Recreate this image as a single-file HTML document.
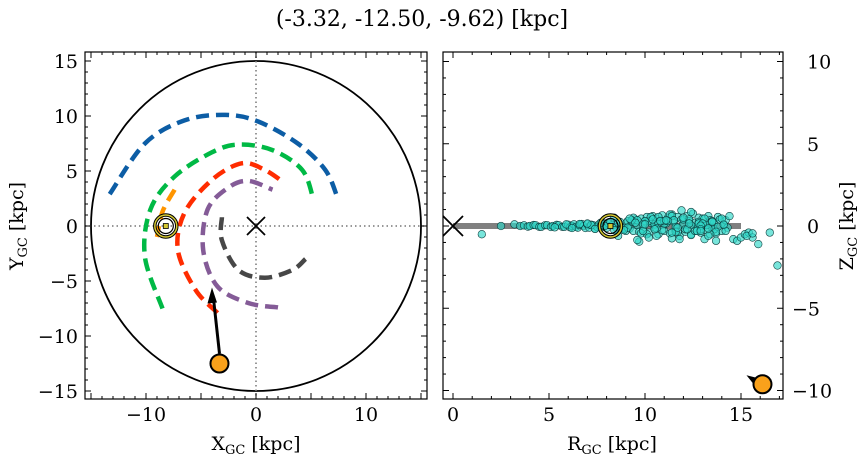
<!DOCTYPE html>
<html><head><meta charset="utf-8"><style>
html,body{margin:0;padding:0;background:#fff}
svg{display:block;font-family:"DejaVu Serif","Liberation Serif",serif}
</style></head><body>
<svg id="c" width="867" height="464" viewBox="0 0 867 464">
<text x="422" y="26" font-size="22" text-anchor="middle">(-3.32, -12.50, -9.62) [kpc]</text>
</svg>
<script>
// ---- data ----
const objX = -3.32, objY = -12.50, objZ = -9.62;
const sunX = -8.2;
const xTicks = [-10, 0, 10];
const yTicks = [-15, -10, -5, 0, 5, 10, 15];
const rTicks = [0, 5, 10, 15];
const zTicks = [-10, -5, 0, 5, 10];
const armNames = ['arm-blue','arm-green','arm-orange','arm-red','arm-purple','arm-grey'];
const armColors = ['#0c5da5','#00b945','#ff9500','#ff2c00','#845b97','#474747'];
const armBlueX = [-13.3,-10.1,-6.5,-2.8,0.2,3.8,6.3,7.4];
const armBlueY = [2.9,7.5,9.6,10.1,9.5,7.5,5.1,2.6];
const armGreenX = [-8.5,-10.1,-9.6,-7.4,-4,-1.6,1.5,4.2,5.2];
const armGreenY = [-7.5,-2.8,1.5,4.5,6.7,7.4,6.9,5.1,2.5];
const armOrangeX = [-7.4,-8.5,-9];
const armOrangeY = [3.3,1.3,-1];
const armRedX = [-3.5,-5.5,-7.1,-6.5,-4,-1.3,0.8,2.6];
const armRedY = [-7.9,-5.8,-2.2,1.2,4.2,5.7,5.1,3.9];
const armPurpleX = [2,-0.7,-3.5,-4.8,-4.4,-2.5,-0.7,1.5];
const armPurpleY = [-7.4,-7,-5.5,-2.2,1.5,3.5,4.1,3.3];
const armGreyX = [-3.1,-3.1,-1.6,0.8,3.3,4.5];
const armGreyY = [0.8,-1.3,-4,-4.7,-4,-3];
const starR = [1.5,2.5,3.2,3.5,3.7,3.9,4.0,4.2,4.3,4.5,4.6,4.8,4.9,5.1,5.2,5.4,5.5,5.7,5.8,6.0,6.1,6.2,6.3,6.4,6.5,6.6,6.7,6.8,6.9,7.0,7.1,7.2,7.3,7.4,7.5,7.6,7.7,7.8,7.9,8.0,8.1,8.3,8.5,8.6,8.8,9.0,9.1,9.2,9.3,9.4,9.5,9.6,9.7,9.8,9.9,10.0,10.1,10.2,10.3,10.4,10.5,10.6,10.7,10.8,10.9,11.0,11.1,11.2,11.3,11.4,11.5,11.6,11.7,11.8,11.9,12.0,12.1,12.2,12.3,12.4,12.5,12.6,12.7,12.8,12.9,13.0,13.1,13.2,13.3,13.4,13.5,13.6,13.7,13.8,13.9,14.0,14.1,14.2,14.3,8.7,9.0,9.4,9.8,10.2,10.5,10.9,11.3,11.6,12.0,12.4,12.8,13.2,13.6,14.0,8.9,9.6,10.3,11.0,11.7,12.4,13.1,13.8,10.0,10.7,11.4,12.1,12.8,13.5,14.2,7.9,8.4,9.1,9.9,10.6,11.5,12.2,13.0,13.7,14.4,10.1,10.6,11.8,12.6,13.4,14.6,14.8,15.0,15.2,15.4,15.6,15.9,16.5,16.9,15.3,15.6,13.7,12.4,10.7,11.9,13.1,11.4,9.7,9.6,10.2,13.3,11.2,7.2,8.6,12.9,5.3,5.9,6.6,7.4,8.2,8.9,9.3,9.9,10.4,11.0,11.6,12.3,12.9,13.5,14.1,6.2,7.0,7.7,8.4,9.2,10.8,11.4,12.0,12.7,13.3,9.5,10.0,10.5,11.1,11.7,12.3,12.9,13.4];
const starZ = [-0.5,0,0.1,0,0.04,-0.04,0,0.06,0.05,-0.05,-0.05,0.05,0.05,-0.06,0,0.07,0.05,-0.05,-0.05,0.08,-0.08,0,0.1,-0.05,-0.1,0.05,0.12,0,-0.12,0.1,-0.1,0.08,0.05,-0.15,-0.05,0.1,-0.1,0,0.15,-0.12,0.15,0.05,-0.1,0.2,-0.2,0.15,0.3,-0.15,0.25,-0.3,0.4,0.05,-0.35,0.45,-0.2,0.3,0.55,-0.4,0.2,0.6,-0.1,0.45,-0.5,0.35,0.65,-0.3,0.15,0.5,-0.45,0.7,0.25,-0.2,0.55,-0.6,0.4,0.1,-0.35,0.6,0.3,-0.5,0.75,0.2,-0.15,0.5,-0.4,0.45,0.1,-0.25,0.6,0.35,-0.1,0.2,-0.45,0.55,0.4,-0.3,0.1,0.35,-0.1,0.25,-0.3,0.5,-0.45,0.3,0.1,-0.25,0.7,-0.05,0.4,-0.55,0.25,0.05,-0.2,0.45,-0.15,0.35,0.55,0.15,-0.35,0.05,0.45,-0.05,0.3,0.2,0.6,-0.2,0.15,0.3,-0.3,0.0,0.5,-0.1,0.1,-0.15,0.35,-0.2,0.15,-0.35,0.6,-0.5,-0.6,-0.8,-0.3,-0.5,-0.8,-0.9,-0.7,-0.5,-0.4,-0.7,-1.1,-0.4,-2.4,-0.6,-0.45,-0.9,0.85,0.55,0.95,-0.8,-0.75,-0.95,-0.85,-0.7,-0.6,0.3,0.05,-0.6,0.02,-0.08,0.1,0.12,-0.18,0.25,-0.25,0.35,-0.3,0.4,0.3,-0.35,0.4,-0.2,0.25,0.08,-0.12,0.15,0.2,-0.25,0.45,0.3,-0.4,0.5,-0.3,-0.15,0.2,0.1,-0.2,0.35,-0.1,0.15,-0.3];
// ---- axes ----
const lx = x => 256 + x*11, ly = y => 226 - y*11;
const rx = r => 453 + r*19.2, rz = z => 226 - z*16.45;
const svg = document.getElementById('c');
const NS = 'http://www.w3.org/2000/svg';
function mk(tag, attrs, parent){const e=document.createElementNS(NS,tag);for(const k in attrs)e.setAttribute(k,attrs[k]);(parent||svg).appendChild(e);return e;}
const L = mk('g',{});


const clipL = mk('clipPath',{id:'cl'},svg); mk('rect',{x:85,y:52,width:342,height:347},clipL);
const clipR = mk('clipPath',{id:'cr'},svg); mk('rect',{x:443,y:52,width:340,height:347},clipR);
const Lc = mk('g',{'clip-path':'url(#cl)'},L);
const gc = mk('circle',{cx:lx(0),cy:ly(0),r:15*11,fill:'none',stroke:'#000','stroke-width':1.8},Lc);


mk('line',{x1:85,x2:427,y1:ly(0),y2:ly(0),stroke:'#777','stroke-width':1.5,'stroke-dasharray':'1.5 3'},Lc);
mk('line',{x1:lx(0),x2:lx(0),y1:52,y2:399,stroke:'#777','stroke-width':1.5,'stroke-dasharray':'1.5 3'},Lc);
const armsX=[armBlueX,armGreenX,armOrangeX,armRedX,armPurpleX,armGreyX];
const armsY=[armBlueY,armGreenY,armOrangeY,armRedY,armPurpleY,armGreyY];
function smooth(xs,ys){
  const p=xs.map((x,i)=>[lx(x),ly(ys[i])]);
  let d='M'+p[0][0]+','+p[0][1];
  for(let i=0;i<p.length-1;i++){
    const p0=p[i-1]||p[i],p1=p[i],p2=p[i+1],p3=p[i+2]||p2;
    d+=' C'+(p1[0]+(p2[0]-p0[0])/6)+','+(p1[1]+(p2[1]-p0[1])/6)+' '+(p2[0]-(p3[0]-p1[0])/6)+','+(p2[1]-(p3[1]-p1[1])/6)+' '+p2[0]+','+p2[1];
  }
  return d;
}
for(let i=0;i<armsX.length;i++){
  const a=mk('path',{d:smooth(armsX[i],armsY[i]),fill:'none',stroke:armColors[i],'stroke-width':4.5,'stroke-dasharray':'13 7'},Lc);
  
  
}
function xmark(cx,cy,s,parent,name){const g=mk('g',{stroke:'#000','stroke-width':1.8},parent);mk('line',{x1:cx-s,y1:cy-s,x2:cx+s,y2:cy+s},g);mk('line',{x1:cx-s,y1:cy+s,x2:cx+s,y2:cy-s},g);}
function sun(cx,cy,parent){const g=mk('g',{},parent);mk('circle',{cx,cy,r:11,fill:'none',stroke:'#000','stroke-width':3.5},g);mk('circle',{cx,cy,r:11,fill:'none',stroke:'#d4c832','stroke-width':1.5},g);mk('circle',{cx,cy,r:7.5,fill:'none',stroke:'#000','stroke-width':1.2},g);mk('rect',{x:cx-2.5,y:cy-2.5,width:5,height:5,fill:'#d4c832',stroke:'#000','stroke-width':0.8},g);}
xmark(lx(0),ly(0),9,Lc,'galactic-center-marker');
sun(lx(sunX),ly(0),Lc);
const ox=lx(objX),oy=ly(objY);
const ar=mk('g',{},Lc);


mk('line',{x1:ox,y1:oy-10,x2:ox-6,y2:oy-65,stroke:'#000','stroke-width':3},ar);
mk('polygon',{points:`${ox-7.5},${oy-76} ${ox-12},${oy-60} ${ox-2.5},${oy-61}`,fill:'#000'},ar);
const ob=mk('circle',{cx:ox,cy:oy,r:9,fill:'#f9a11b',stroke:'#000','stroke-width':2},Lc);


const R = mk('g',{});


const Rc = mk('g',{'clip-path':'url(#cr)'},R);
const band=mk('line',{x1:rx(0),x2:rx(15),y1:rz(0),y2:rz(0),stroke:'#808080','stroke-width':6},Rc);


for(let i=0;i<starR.length;i++){
  const s=mk('circle',{cx:rx(starR[i]),cy:rz(starZ[i]),r:3.8,fill:'rgba(48,215,200,0.65)',stroke:'#0b3b3b','stroke-width':0.6},Rc);
  
  
}
xmark(rx(0),rz(0),10,Rc,'galactic-center-marker-rz');
sun(rx(-sunX),rz(0),Rc);
const objR=Math.sqrt(objX*objX+objY*objY+objZ*objZ);
mk('polygon',{points:`${rx(objR)-16},${rz(objZ)-9} ${rx(objR)-4},${rz(objZ)-6} ${rx(objR)-8},${rz(objZ)+1}`,fill:'#000'},Rc);
const ob2=mk('circle',{cx:rx(objR),cy:rz(objZ),r:9,fill:'#f9a11b',stroke:'#000','stroke-width':2},Rc);


function frame(x0,y0,w,h){mk('rect',{x:x0,y:y0,width:w,height:h,fill:'none',stroke:'#000','stroke-width':1.2});}
frame(85,52,342,347); frame(443,52,340,347);
function tick(x1,y1,x2,y2){mk('line',{x1,y1,x2,y2,stroke:'#000','stroke-width':1});}
function label(x,y,t,anchor,name){const e=mk('text',{x,y,'font-size':19,'text-anchor':anchor});e.textContent=t;return e;}
const fmt=v=>v<0?'\u2212'+Math.abs(v):''+v;
for(let v=-15;v<=15;v++){const X=lx(v),L2=v%5===0?6:3;tick(X,399,X,399-L2);tick(X,52,X,52+L2);}
for(let v=-15;v<=15;v++){const Y=ly(v),L2=v%5===0?6:3;tick(85,Y,85+L2,Y);tick(427,Y,427-L2,Y);}
xTicks.forEach(v=>label(lx(v),421,fmt(v),'middle','x-tick-label'));
yTicks.forEach(v=>label(78,ly(v)+7,fmt(v),'end','y-tick-label'));
for(let v=0;v<=17;v++){const X=rx(v),L2=v%5===0?6:3;tick(X,399,X,399-L2);tick(X,52,X,52+L2);}
for(let v=-10;v<=10;v++){const Y=rz(v),L2=v%5===0?6:3;tick(443,Y,443+L2,Y);tick(783,Y,783-L2,Y);}
rTicks.forEach(v=>label(rx(v),421,fmt(v),'middle','r-tick-label'));
zTicks.forEach(v=>label(v<0?792:807,rz(v)+7,fmt(v),'start','z-tick-label'));
function axTitle(x,y,main,rot,name){const e=mk('text',{x,y,'font-size':19,'text-anchor':'middle'});if(rot)e.setAttribute('transform',`rotate(-90 ${x} ${y})`);e.innerHTML=main+'<tspan font-size="13" dy="4">GC</tspan><tspan dy="-4"> [kpc]</tspan>';}
axTitle(256,450,'X',false,'x-axis-title');
axTitle(23,226,'Y',true,'y-axis-title');
axTitle(612,450,'R',false,'r-axis-title');
axTitle(853,226,'Z',true,'z-axis-title');
</script>
</body></html>
